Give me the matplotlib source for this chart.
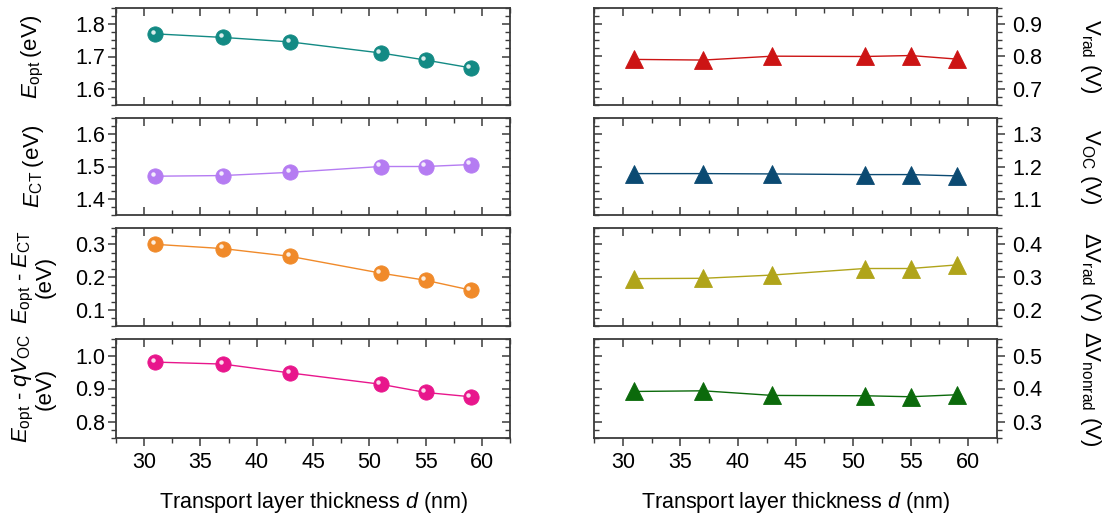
import numpy as np
import matplotlib
matplotlib.use('Agg')
import matplotlib.pyplot as plt
import matplotlib.lines as mlines
from matplotlib.ticker import MultipleLocator
from matplotlib.transforms import offset_copy

plt.rcParams['font.family'] = ['Liberation Sans', 'DejaVu Sans']
plt.rcParams['mathtext.fontset'] = 'custom'
plt.rcParams['mathtext.rm'] = 'Liberation Sans'
plt.rcParams['mathtext.it'] = 'Liberation Sans:italic'

d_nm = [31, 37, 43, 51, 55, 59]

e_opt   = [1.770, 1.759, 1.745, 1.711, 1.689, 1.665]
e_ct    = [1.470, 1.472, 1.482, 1.500, 1.500, 1.506]
e_diff  = [0.300, 0.287, 0.263, 0.212, 0.190, 0.160]
e_loss  = [0.980, 0.974, 0.947, 0.913, 0.888, 0.875]

v_rad    = [0.791, 0.789, 0.801, 0.800, 0.803, 0.792]
v_oc     = [1.178, 1.178, 1.177, 1.175, 1.175, 1.171]
dv_rad   = [0.295, 0.296, 0.306, 0.326, 0.326, 0.337]
dv_nrad  = [0.391, 0.393, 0.379, 0.378, 0.375, 0.381]

left_series = [
    (e_opt,  '#138a84', (1.55, 1.85), [1.6, 1.7, 1.8], '$E_\\mathrm{opt}$\u2009(eV)'),
    (e_ct,   '#b57cf2', (1.35, 1.65), [1.4, 1.5, 1.6], '$E_\\mathrm{CT}$\u2009(eV)'),
    (e_diff, '#f08a2a', (0.05, 0.35), [0.1, 0.2, 0.3], '$E_\\mathrm{opt}$ - $E_\\mathrm{CT}$\n(eV)'),
    (e_loss, '#e8168c', (0.75, 1.05), [0.8, 0.9, 1.0], '$E_\\mathrm{opt}$ - $qV_\\mathrm{OC}$\n(eV)'),
]
right_series = [
    (v_rad,   '#cc1414', (0.65, 0.95), [0.7, 0.8, 0.9], 'V$_\\mathrm{rad}$ (V)'),
    (v_oc,    '#0b4a72', (1.05, 1.35), [1.1, 1.2, 1.3], 'V$_\\mathrm{OC}$ (V)'),
    (dv_rad,  '#b0a41a', (0.15, 0.45), [0.2, 0.3, 0.4], '$\\Delta$V$_\\mathrm{rad}$ (V)'),
    (dv_nrad, '#0b6a0b', (0.25, 0.55), [0.3, 0.4, 0.5], '$\\Delta$V$_\\mathrm{nonrad}$ (V)'),
]

W, H = 1111, 514
fig = plt.figure(figsize=(W / 100, H / 100), dpi=100)

rows_px = [(8, 105), (118, 215), (228, 326), (339, 438)]
spine_col = '#3a3a3a'


def make_ax(x0, x1, row, side):
    t, b = rows_px[row]
    ax = fig.add_axes([x0 / W, 1 - b / H, (x1 - x0) / W, (b - t) / H])
    for s in ax.spines.values():
        s.set_color(spine_col)
        s.set_linewidth(1.3)
    ax.set_xlim(27.5, 62.5)
    ax.xaxis.set_major_locator(MultipleLocator(5))
    ax.xaxis.set_minor_locator(MultipleLocator(2.5))
    ax.yaxis.set_minor_locator(MultipleLocator(0.025))
    last = row == 3
    ax.tick_params(axis='x', which='both', top=True, bottom=True,
                   direction='out' if last else 'in', labelbottom=last, color=spine_col)
    ax.tick_params(axis='x', which='major', length=6, width=1.1, labelsize=15.5, pad=4)
    ax.tick_params(axis='x', which='minor', length=3.5, width=1.0)
    ax.tick_params(axis='y', which='both', left=True, right=True, direction='out',
                   labelleft=(side == 'left'), labelright=(side == 'right'),
                   color=spine_col)
    ax.tick_params(axis='y', which='major', length=6, width=1.1, labelsize=15.5,
                   pad=2 if side == 'left' else 5)
    ax.tick_params(axis='y', which='minor', length=3.5, width=1.0)
    return ax


def fix_inner_ticks(ax, side, last):
    # ticks on the unlabeled side point inward
    yt = ax.yaxis.get_major_ticks() + ax.yaxis.get_minor_ticks()
    for t in yt:
        if side == 'left':
            t.tick2line.set_marker(mlines.TICKLEFT)
        else:
            t.tick1line.set_marker(mlines.TICKRIGHT)
    if last:
        for t in ax.xaxis.get_major_ticks() + ax.xaxis.get_minor_ticks():
            t.tick2line.set_marker(mlines.TICKDOWN)


L0, L1 = 116, 510
R0, R1 = 594, 997

for row, (vals, col, ylim, yt, lab) in enumerate(left_series):
    ax = make_ax(L0, L1, row, 'left')
    ax.set_ylim(*ylim)
    ax.set_yticks(yt)
    ax.set_yticklabels(['%.1f' % v for v in yt])
    ax.plot(d_nm, vals, '-', color=col, lw=1.0, zorder=2)
    ax.plot(d_nm, vals, 'o', color=col, ms=11, mec=col, mew=0.6, zorder=3)
    hl = offset_copy(ax.transData, fig=fig, x=-1.6, y=1.6, units='points')
    ax.plot(d_nm, vals, 'o', color='white', ms=3.2, mew=0, alpha=0.85,
            transform=hl, zorder=4)
    ax.set_ylabel(lab, fontsize=16, linespacing=0.9, va='center', ha='center')
    ax.yaxis.set_label_coords((33 - L0) / (L1 - L0), 0.5)
    fix_inner_ticks(ax, 'left', row == 3)
    if row == 3:
        ax.set_xlabel('Transport layer thickness $d$ (nm)', fontsize=15.5, labelpad=12)

for row, (vals, col, ylim, yt, lab) in enumerate(right_series):
    ax = make_ax(R0, R1, row, 'right')
    ax.set_ylim(*ylim)
    ax.set_yticks(yt)
    ax.set_yticklabels(['%.1f' % v for v in yt])
    ax.plot(d_nm, vals, '-', color=col, lw=1.0, zorder=2)
    ax.plot(d_nm, vals, '^', color=col, ms=12.5, mec=col, mew=0.6, zorder=3)
    ax.yaxis.set_label_position('right')
    ax.set_ylabel(lab, fontsize=16, rotation=270, va='center', ha='center')
    ax.yaxis.set_label_coords((1090 - R0) / (R1 - R0), 0.5)
    fix_inner_ticks(ax, 'right', row == 3)
    if row == 3:
        ax.set_xlabel('Transport layer thickness $d$ (nm)', fontsize=15.5, labelpad=12)

fig.savefig('out.png', dpi=100)
